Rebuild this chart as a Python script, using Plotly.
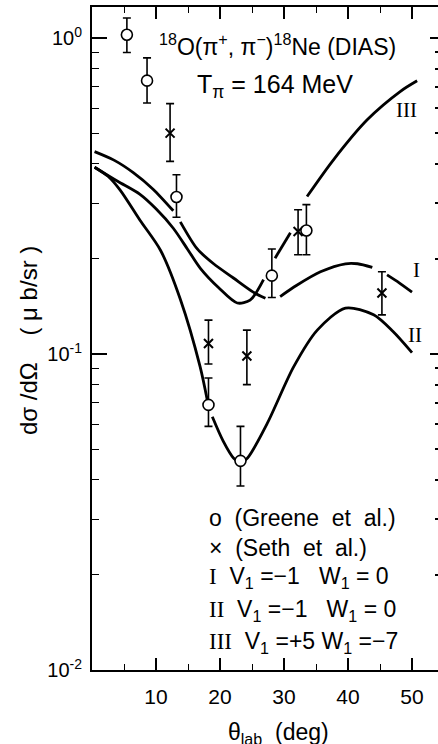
import plotly.graph_objects as go

# ---------------- data ----------------
greene_x = [5.45, 8.6, 13.2, 18.2, 23.2, 28.1, 33.5]
greene_y = [1.024, 0.733, 0.314, 0.069, 0.0459, 0.177, 0.246]
greene_hi = [1.157, 0.865, 0.369, 0.084, 0.059, 0.215, 0.297]
greene_lo = [0.90, 0.623, 0.271, 0.059, 0.0382, 0.151, 0.206]

seth_x = [12.2, 18.2, 24.2, 32.2, 45.3]
seth_y = [0.50, 0.108, 0.0986, 0.244, 0.156]
seth_hi = [0.62, 0.128, 0.119, 0.286, 0.182]
seth_lo = [0.407, 0.093, 0.080, 0.206, 0.133]

# calculated curves (None = gap in the drawn line)
curve1_x = [0.4, 3.5, 6.45, 9.5, 12.7, None, 13.8, 16.45, 19.0, 22.1, 25.2, 27.1, None,
            29.4, 32.0, 35.7, 39.6, 41.5, 43.8, None, 46.1, 48.0, 50.0]
curve1_y = [0.437, 0.41, 0.375, 0.333, 0.284, None, 0.262, 0.215, 0.193, 0.174, 0.157, 0.150, None,
            0.152, 0.165, 0.182, 0.193, 0.193, 0.188, None, 0.178, 0.168, 0.157]

curve2_x = [0.4, 2.5, 4.4, 7.5, 10.7, 13.8, 16.9, 18.0, None, 18.8, 20.5, 22.1, 23.2, 24.3,
            27.4, 31.5, 35.2, 39.6, 44.0, 47.0, 50.0]
curve2_y = [0.39, 0.365, 0.33, 0.265, 0.213, 0.149, 0.091, 0.0716, None, 0.0633, 0.053, 0.0469,
            0.0455, 0.0469, 0.0604, 0.091, 0.119, 0.1397, 0.133, 0.118, 0.101]

curve3_x = [0.4, 4.0, 7.5, 10.0, 12.7, 14.9, 16.9, 19.8, 22.7, 24.7, 26.8, None, 28.6, 31.0, None,
            33.6, 37.7, 43.0, 48.2, 50.8]
curve3_y = [0.39, 0.352, 0.32, 0.288, 0.250, 0.215, 0.187, 0.162, 0.145, 0.148, 0.172, None, 0.201, 0.242,
            None, 0.315, 0.411, 0.551, 0.678, 0.732]

x_ticks = [10, 20, 30, 40, 50]
y_ticks = [0.01, 0.1, 1]
y_tick_text = ["10<sup>-2</sup>", "10<sup>-1</sup>", "10<sup>0</sup>"]
y_minor = [0.02, 0.03, 0.04, 0.05, 0.06, 0.07, 0.08, 0.09,
           0.2, 0.3, 0.4, 0.5, 0.6, 0.7, 0.8, 0.9]

# ---------------- layout geometry (pixels) ----------------
W, H = 438, 744
L, R, T, B = 92, 438, 7, 670
FONT = "Liberation Sans"


def px(xp):
    return (xp - L) / (R - L)


def py(yp):
    return (B - yp) / (B - T)


fig = go.Figure()

for cx, cy in [(curve1_x, curve1_y), (curve2_x, curve2_y), (curve3_x, curve3_y)]:
    fig.add_trace(go.Scatter(x=cx, y=cy, mode="lines",
                             line=dict(color="black", width=2.8, shape="spline", smoothing=0.8),
                             connectgaps=False, hoverinfo="skip", showlegend=False))

fig.add_trace(go.Scatter(
    x=seth_x, y=seth_y, mode="markers",
    marker=dict(symbol="x-thin-open", size=9, color="black", line=dict(color="black", width=2)),
    error_y=dict(type="data", symmetric=False,
                 array=[h - v for h, v in zip(seth_hi, seth_y)],
                 arrayminus=[v - l for v, l in zip(seth_y, seth_lo)],
                 color="black", thickness=1.6, width=4),
    showlegend=False))

fig.add_trace(go.Scatter(
    x=greene_x, y=greene_y, mode="markers",
    marker=dict(symbol="circle", size=11, color="white", line=dict(color="black", width=1.6)),
    error_y=dict(type="data", symmetric=False,
                 array=[h - v for h, v in zip(greene_hi, greene_y)],
                 arrayminus=[v - l for v, l in zip(greene_y, greene_lo)],
                 color="black", thickness=1.6, width=4),
    showlegend=False))

# dummy trace so the right-hand tick axis is drawn
fig.add_trace(go.Scatter(x=[None], y=[None], yaxis="y2", showlegend=False, hoverinfo="skip"))

x_range = [0, (R - L) / 6.4]
y_range = [-2, -2 + (B - T) / 316.0]

fig.update_layout(
    width=W, height=H,
    margin=dict(l=L, r=W - R, t=T, b=H - B, pad=0),
    paper_bgcolor="white", plot_bgcolor="white",
    font=dict(family=FONT, color="black"),
    xaxis=dict(range=x_range, showgrid=False, zeroline=False,
               showline=True, linecolor="black", linewidth=2, mirror="ticks",
               ticks="inside", ticklen=12, tickwidth=1.6, tickcolor="black",
               tickmode="array", tickvals=x_ticks, ticktext=[str(v) for v in x_ticks],
               tickfont=dict(family=FONT, size=21, color="black"), ticklabelstandoff=7,
               minor=dict(ticks="inside", dtick=5, tick0=0, ticklen=6, tickwidth=1.4,
                          tickcolor="black", showgrid=False)),
    yaxis=dict(type="log", range=y_range, showgrid=False, zeroline=False,
               showline=True, linecolor="black", linewidth=2,
               ticks="inside", ticklen=15, tickwidth=1.6, tickcolor="black",
               tickmode="array", tickvals=y_ticks, ticktext=y_tick_text,
               tickfont=dict(family=FONT, size=20, color="black"), ticklabelstandoff=4,
               minor=dict(ticks="inside", tickmode="array", tickvals=y_minor, ticklen=7,
                          tickwidth=1.4, tickcolor="black", showgrid=False)),
    yaxis2=dict(type="log", range=y_range, overlaying="y", side="right", showgrid=False,
                zeroline=False, showline=False, showticklabels=False,
                ticks="inside", ticklen=8, tickwidth=1.6, tickcolor="black",
                tickmode="array", tickvals=y_ticks,
                minor=dict(ticks="inside", tickmode="array", tickvals=y_minor, ticklen=3,
                           tickwidth=1.6, tickcolor="black", showgrid=False)),
)

ann = []


def text(xp, yp, s, size=24, xanchor="left", family=FONT, angle=0):
    ann.append(dict(x=px(xp), y=py(yp), xref="paper", yref="paper", text=s, showarrow=False,
                    xanchor=xanchor, yanchor="middle", textangle=angle, align=xanchor,
                    font=dict(family=family, size=size, color="black")))


text(157, 45, "<sup>18</sup>O(π<sup>+</sup>, π<sup>−</sup>)<sup>18</sup>Ne (DIAS)", size=23)
text(195, 86, "T<sub>π</sub> = 164 MeV", size=25)
text(406, 110, "III", size=21, xanchor="center", family="Liberation Serif")
text(416, 270, "I", size=21, xanchor="center", family="Liberation Serif")
text(415, 335, "II", size=21, xanchor="center", family="Liberation Serif")

SER = '<span style="font-family:Liberation Serif">%s</span>'
text(207, 518, "o  (Greene  et  al.)", size=23)
text(207, 548, "×  (Seth  et  al.)", size=23)
text(207, 577, SER % "I" + "  V<sub>1</sub> =−1   W<sub>1</sub> = 0", size=23)
text(207, 610, SER % "II" + "  V<sub>1</sub> =−1   W<sub>1</sub> = 0", size=23)
text(207, 642, SER % "III" + "  V<sub>1</sub> =+5 W<sub>1</sub> =−7", size=23)

text(28, 341, "dσ /dΩ    ( μ b/sr )", size=24, xanchor="center", angle=-90)
text(278, 733, "θ<sub>lab</sub>  (deg)", size=23, xanchor="center")

fig.update_layout(annotations=ann)
fig.write_html("out.html")
